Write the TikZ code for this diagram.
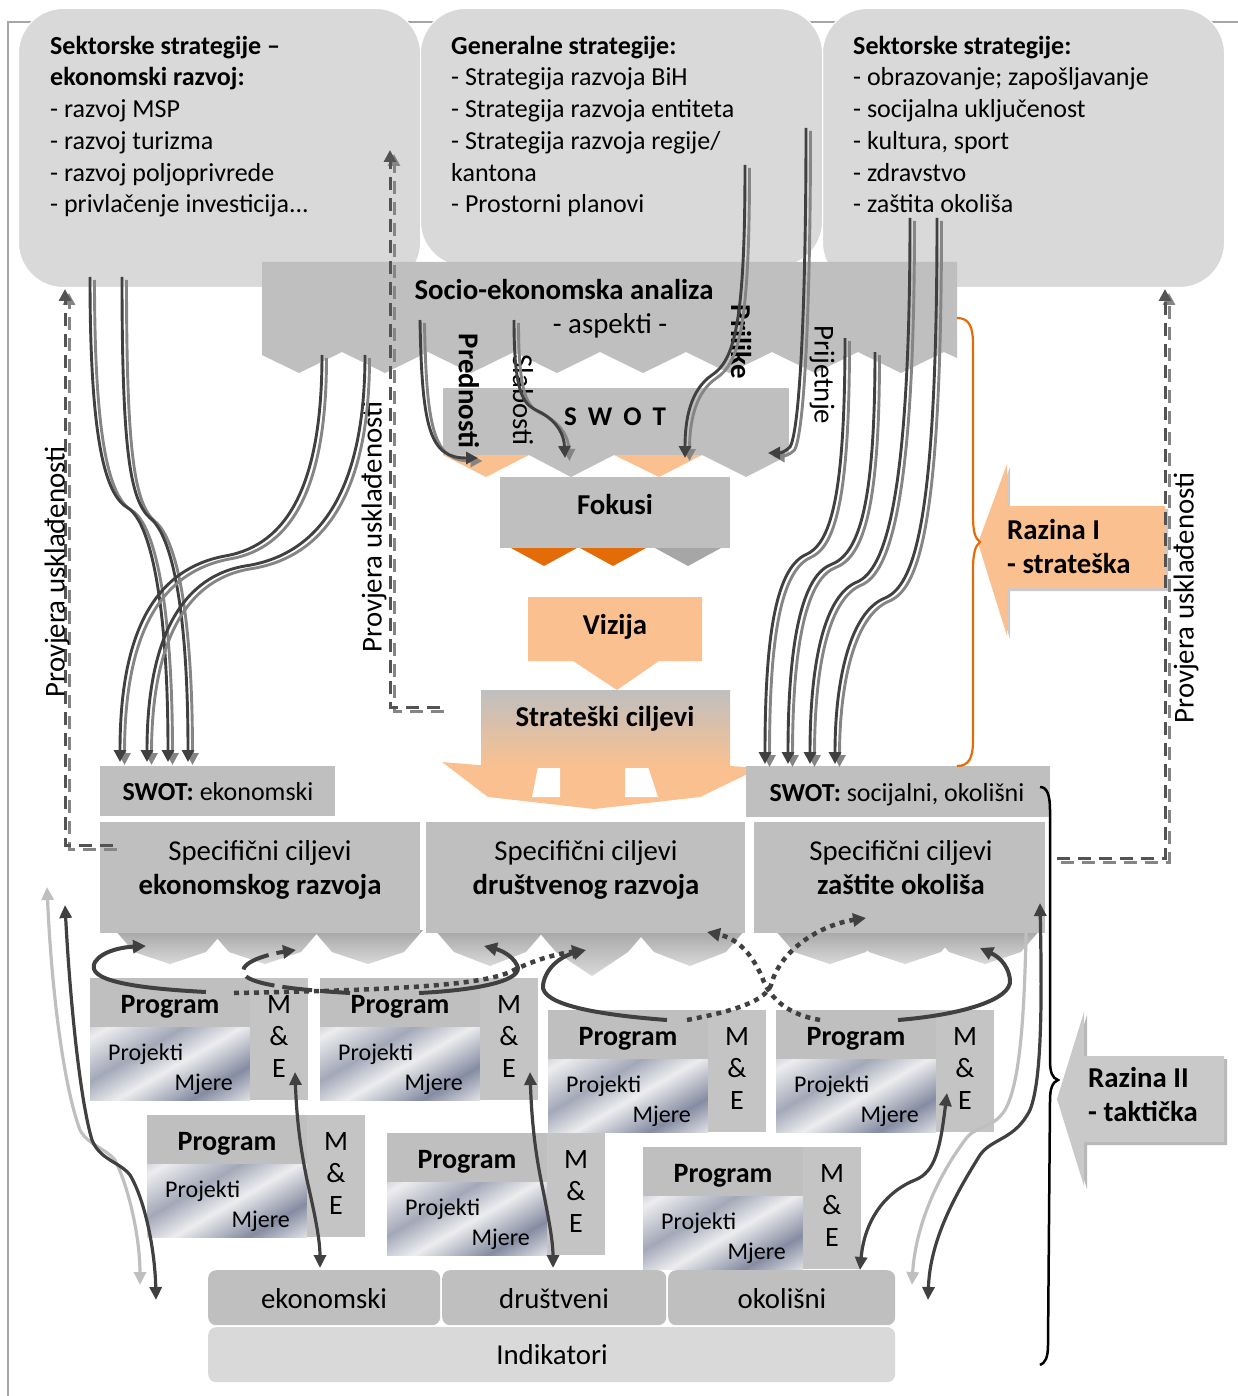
\documentclass[tikz,border=0pt]{standalone}
\usepackage{fontspec}
\setmainfont{Carlito}
\usetikzlibrary{arrows.meta,calc}
\definecolor{lbox}{HTML}{D9D9D9}
\definecolor{mbox}{HTML}{BFBFBF}
\definecolor{mecol}{HTML}{C4C4C4}
\definecolor{peach}{HTML}{FAC090}
\definecolor{dorange}{HTML}{E36C09}
\definecolor{dline}{HTML}{404040}
\definecolor{gline}{HTML}{858585}
\definecolor{dgray}{HTML}{A6A6A6}
\definecolor{frame}{HTML}{A6A6A6}
\definecolor{mA}{HTML}{858CA2}
\definecolor{mB}{HTML}{EDEDEF}
\definecolor{mC}{HTML}{A3A8B8}
\pgfdeclarehorizontalshading{metal}{100bp}{color(0bp)=(mA); color(20bp)=(mB); color(38bp)=(mC); color(52bp)=(mB); color(70bp)=(mA); color(86bp)=(mB); color(100bp)=(mC)}
\tikzset{
  t/.style={inner sep=0pt, font=\fontsize{26}{31}\selectfont},
  tb/.style={inner sep=0pt, font=\fontsize{26}{31}\selectfont\bfseries},
  tl/.style={inner sep=0pt, font=\fontsize{28.8}{33}\selectfont},
  tlb/.style={inner sep=0pt, font=\fontsize{28.8}{33}\selectfont\bfseries},
  tsm/.style={inner sep=0pt, font=\fontsize{24}{28}\selectfont},
  blk/.style={inner sep=0pt, anchor=north west},
  tip/.style={-{Triangle[length=12pt,width=12pt]}},
  dl/.style={draw=dline, line width=2.9pt, tip},
  gl/.style={draw=gline, line width=2.9pt, tip, transform canvas={xshift=4.5pt,yshift=-3pt}},
  ddash/.style={draw=dline!90, line width=3pt, dash pattern=on 13pt off 8pt, tip},
  gdash/.style={draw=gline, line width=3pt, dash pattern=on 13pt off 8pt, tip, transform canvas={xshift=4pt,yshift=-4pt}},
  loopl/.style={draw=dline, line width=4pt, -{Triangle[length=13pt,width=13pt]}},
  dotl/.style={draw=dline, line width=4.5pt, dash pattern=on 5pt off 5pt, -{Triangle[length=13pt,width=13pt]}},
  longl/.style={line width=3.2pt, {Triangle[length=13pt,width=12pt]}-{Triangle[length=13pt,width=12pt]}},
}
\newcommand\dbl[1]{\draw[gl] #1; \draw[dl] #1;}
\newcommand\dbldash[1]{\draw[gdash] #1; \draw[ddash] #1;}
\newcommand\prog[3]{%
  \node[blk, fill=mbox, minimum width=160pt, minimum height=49pt] (#1hdr) at (#2,#3) {};
  \node[blk, shade, shading=metal, shading angle=-60, minimum width=160pt, minimum height=73pt] (#1prj) at (#2,#3+49) {};
  \node[blk, fill=mecol, minimum width=58pt, minimum height=122pt] (#1me) at (#2+160,#3) {};
  \node[inner sep=0pt, anchor=base, font=\fontsize{28}{32}\selectfont\bfseries] (#1p) at (#2+80,#3+35) {Program};
  \node[tsm, anchor=base west] (#1pj) at (#2+18,#3+82) {Projekti};
  \node[tsm, anchor=base east] (#1mj) at (#2+143,#3+112) {Mjere};
  \node[inner sep=0pt, anchor=base, font=\fontsize{28}{32}\selectfont] (#1m) at (#2+189,#3+35) {M};
  \node[inner sep=0pt, anchor=base, font=\fontsize{28}{32}\selectfont] (#1a) at (#2+189,#3+67) {\&};
  \node[inner sep=0pt, anchor=base, font=\fontsize{28}{32}\selectfont] (#1e) at (#2+189,#3+99) {E};
}
\begin{document}
\begin{tikzpicture}[x=1pt,y=-1pt]
\useasboundingbox (0,0) rectangle (1237,1396);
% frame
\draw[frame, line width=1.5pt] (8,1400) -- (8,22) -- (1240,22);
% top boxes
\node[blk, fill=lbox, draw=white, line width=1pt, rounded corners=45pt, minimum width=402pt, minimum height=279pt] (box1) at (18,8) {};
\node[blk, fill=lbox, draw=white, line width=1pt, rounded corners=45pt, minimum width=402pt, minimum height=279pt] (box3) at (822,8) {};
\node[blk, fill=lbox, draw=white, line width=1pt, rounded corners=45pt, minimum width=402pt, minimum height=258pt] (box2) at (420,8) {};
% box texts
\node[tb, anchor=base west] (b1a) at (50,55) {Sektorske strategije –};
\node[tb, anchor=base west] (b1b) at (50,86) {ekonomski razvoj:};
\node[t, anchor=base west] (b1c) at (50,118) {- razvoj MSP};
\node[t, anchor=base west] (b1d) at (50,150) {- razvoj turizma};
\node[t, anchor=base west] (b1e) at (50,182) {- razvoj poljoprivrede};
\node[t, anchor=base west] (b1f) at (50,213) {- privlačenje investicija...};
\node[tb, anchor=base west] (b2a) at (451,55) {Generalne strategije:};
\node[t, anchor=base west] (b2b) at (451,86) {- Strategija razvoja BiH};
\node[t, anchor=base west] (b2c) at (451,118) {- Strategija razvoja entiteta};
\node[t, anchor=base west] (b2d) at (451,150) {- Strategija razvoja regije/};
\node[t, anchor=base west] (b2e) at (451,182) {kantona};
\node[t, anchor=base west] (b2f) at (451,213) {- Prostorni planovi};
\node[tb, anchor=base west] (b3a) at (853,55) {Sektorske strategije:};
\node[t, anchor=base west] (b3b) at (853,86) {- obrazovanje; zapošljavanje};
\node[t, anchor=base west] (b3c) at (853,118) {- socijalna uključenost};
\node[t, anchor=base west] (b3d) at (853,150) {- kultura, sport};
\node[t, anchor=base west] (b3e) at (853,182) {- zdravstvo};
\node[t, anchor=base west] (b3f) at (853,213) {- zaštita okoliša};
% socio box
\fill[mbox] (262,262) -- (957,262) -- (957,358) -- (944,352) -- (901,373) -- (858,352) -- (815,373) -- (772,352) -- (729,373) -- (686,352) -- (643,373) -- (600,352) -- (557,373) -- (514,352) -- (471,373) -- (428,352) -- (385,373) -- (342,352) -- (299,373) -- (262,355) -- cycle;
\node[tlb, anchor=base] (socio) at (564,299) {Socio-ekonomska analiza};
\node[tl, anchor=base] (asp) at (610,334) {- aspekti -};
% SWOT
\node[blk, fill=mbox, minimum width=346pt, minimum height=67pt] (swotbox) at (443,388) {};
\fill[peach] (443,455) -- (486,477) -- (529,455) -- cycle;
\fill[mbox] (529,455) -- (571,477) -- (614,455) -- cycle;
\fill[peach] (614,455) -- (659,477) -- (702,455) -- cycle;
\fill[mbox] (702,455) -- (746,477) -- (789,455) -- cycle;
\node[tlb, anchor=base, font=\fontsize{27}{31}\selectfont\bfseries] (swot) at (615,425) {S\hspace{11pt}W\hspace{11pt}O\hspace{11pt}T};
% Fokusi
\node[blk, fill=mbox, minimum width=230pt, minimum height=71pt] (fok) at (500,477) {};
\node[tlb, anchor=base] (fokt) at (615,514) {Fokusi};
\fill[dorange] (511,548) -- (544,566) -- (577,548) -- cycle;
\fill[dorange] (580,548) -- (613,566) -- (646,548) -- cycle;
\fill[dgray] (655,548) -- (688,566) -- (721,548) -- cycle;
% Vizija
\fill[peach] (528,597) -- (702,597) -- (702,661) -- (659,661) -- (617,690) -- (573,661) -- (528,661) -- cycle;
\node[tlb, anchor=base] (viz) at (615,634) {Vizija};
% Strateski arrow + box
\fill[peach] (442,762) -- (490,766) -- (730,766) -- (760,768) -- (700,797) -- (594,809) -- (488,797) -- cycle;
\fill[white] (538,767) -- (560,767) -- (560,797) -- (532,797) -- cycle;
\fill[white] (625,767) -- (648,767) -- (658,797) -- (625,797) -- cycle;
\shade[top color=mbox, bottom color=peach] (481,690) rectangle (730,767);
\node[tlb, anchor=base] (strat) at (605,726) {Strateški ciljevi};
% Specificni chevrons
\foreach \cx/\d in {170/34,265/34,368/34,490/36,592/46,690/36,830/34,905/34,985/34}{
  \shade[top color=dgray, bottom color=lbox] (\cx-55,930) -- (\cx+55,930) -- (\cx+36,952) -- (\cx,930+\d) -- (\cx-36,952) -- cycle;
}
% Specificni boxes
\node[blk, fill=mbox, minimum width=320pt, minimum height=111pt] (sc1) at (100,822) {};
\node[blk, fill=mbox, minimum width=319pt, minimum height=111pt] (sc2) at (426,822) {};
\node[blk, fill=mbox, minimum width=291pt, minimum height=111pt] (sc3) at (754,822) {};
\node[tl, anchor=base] (sc1a) at (260,860) {Specifični ciljevi};
\node[tlb, anchor=base] (sc1b) at (260,894) {ekonomskog razvoja};
\node[tl, anchor=base] (sc2a) at (586,860) {Specifični ciljevi};
\node[tlb, anchor=base] (sc2b) at (586,894) {društvenog razvoja};
\node[tl, anchor=base] (sc3a) at (901,860) {Specifični ciljevi};
\node[tlb, anchor=base] (sc3b) at (901,894) {zaštite okoliša};
% SWOT small boxes
\node[blk, fill=mbox, minimum width=235pt, minimum height=50pt] (swe) at (100,766) {};
\node[t, anchor=base] (swet) at (218,800) {\textbf{SWOT:} ekonomski};
\node[blk, fill=mbox, minimum width=304pt, minimum height=51pt] (sws) at (746,766) {};
\node[t, anchor=base] (swst) at (897,801) {\textbf{SWOT:} socijalni, okolišni};
% programs
\prog{pa}{90}{978}
\prog{pb}{320}{978}
\prog{pc}{548}{1010}
\prog{pd}{776}{1010}
\prog{pe}{147}{1115}
\prog{pf}{387}{1133}
\prog{pg}{643}{1147}
% indicators
\node[blk, fill=mbox, rounded corners=8pt, minimum width=232pt, minimum height=55pt] (ie) at (208,1270) {};
\node[blk, fill=mbox, rounded corners=8pt, minimum width=224pt, minimum height=55pt] (id) at (442,1270) {};
\node[blk, fill=mbox, rounded corners=8pt, minimum width=227pt, minimum height=55pt] (io) at (668,1270) {};
\node[blk, fill=lbox, rounded corners=8pt, minimum width=687pt, minimum height=55pt] (ind) at (208,1327) {};
\node[tl, anchor=base] (iet) at (324,1308) {ekonomski};
\node[tl, anchor=base] (idt) at (554,1308) {društveni};
\node[tl, anchor=base] (iot) at (782,1308) {okolišni};
\node[tl, anchor=base] (indt) at (552,1364) {Indikatori};
% Razina I
\fill[dgray!60] (1010,509) -- (1168,509) -- (1168,591) -- (1010,591) -- (1010,639) -- (981,546) -- (1010,467) -- cycle;
\fill[peach] (1007,506) -- (1165,506) -- (1165,588) -- (1007,588) -- (1007,636) -- (978,543) -- (1007,464) -- cycle;
\node[tlb, anchor=base west] (r1a) at (1007,539) {Razina I};
\node[tlb, anchor=base west] (r1b) at (1007,573) {- strateška};
% Razina II
\fill[dgray!80] (1087,1059) -- (1227,1059) -- (1227,1145) -- (1087,1145) -- (1087,1189) -- (1060,1102) -- (1087,1015) -- cycle;
\fill[mbox!85] (1084,1056) -- (1224,1056) -- (1224,1142) -- (1084,1142) -- (1084,1186) -- (1057,1099) -- (1084,1012) -- cycle;
\node[tlb, anchor=base west] (r2a) at (1088,1087) {Razina II};
\node[tlb, anchor=base west] (r2b) at (1088,1121) {- taktička};
% braces
\draw[dorange, line width=2.2pt] (957,318) .. controls (970,318) and (973,328) .. (973,345) -- (973,515) .. controls (973,532) and (975,538) .. (980,542) .. controls (975,546) and (973,554) .. (973,570) -- (973,740) .. controls (973,758) and (969,766) .. (957,766);
\draw[black, line width=2.5pt] (1040,787) .. controls (1047,787) and (1050,795) .. (1050,810) -- (1050,1060) .. controls (1050,1072) and (1052,1078) .. (1058,1080) .. controls (1052,1082) and (1050,1090) .. (1050,1100) -- (1048,1345) .. controls (1048,1358) and (1045,1363) .. (1040,1365);
% dashed alignment checks
\coordinate (pl1) at (113,845); \coordinate (pl1c) at (65,845); \coordinate (pl1e) at (65,289);
\coordinate (pl2) at (440,707); \coordinate (pl2c) at (390,707); \coordinate (pl2e) at (390,150);
\coordinate (pl3) at (1057,858); \coordinate (pl3c) at (1165,858); \coordinate (pl3e) at (1165,289);
\dbldash{(pl1) -- (pl1c) -- (pl1e)}
\dbldash{(pl2) -- (pl2c) -- (pl2e)}
\dbldash{(pl3) -- (pl3c) -- (pl3e)}
\node[tl, rotate=90] (pv1) at (57,572) {Provjera usklađenosti};
\node[tl, rotate=90] (pv2) at (374,527) {Provjera usklađenosti};
\node[tl, rotate=90] (pv3) at (1186,598) {Provjera usklađenosti};
% SWOT labels
\node[tlb, rotate=-90] (lpre) at (469,391) {Prednosti};
\node[tl, rotate=-90] (lsla) at (523,400) {Slabosti};
\node[tlb, rotate=-90] (lpri) at (741,342) {Prilike};
\node[tl, rotate=-90] (lprj) at (822,375) {Prijetnje};
% coordinates for connectors
\coordinate (l1s) at (90,277);  \coordinate (l1e) at (168,762);
\coordinate (l2s) at (122,277); \coordinate (l2e) at (188,762);
\coordinate (l3s) at (322,355); \coordinate (l3e) at (120,762);
\coordinate (l4s) at (365,355); \coordinate (l4e) at (147,762);
\coordinate (r1s) at (845,338); \coordinate (r1e) at (765,764);
\coordinate (r2s) at (875,352); \coordinate (r2e) at (788,764);
\coordinate (r3s) at (910,218); \coordinate (r3e) at (810,764);
\coordinate (r4s) at (937,218); \coordinate (r4e) at (835,764);
\coordinate (sps) at (420,320); \coordinate (spe) at (478,458);
\coordinate (sws1) at (514,320); \coordinate (swe1) at (565,458);
\coordinate (sos) at (745,165); \coordinate (soe) at (685,458);
\coordinate (sts) at (806,128); \coordinate (ste) at (768,453);
% left group
\dbl{(l1s) .. controls (90,440) and (105,495) .. (128,508) .. controls (150,522) and (168,600) .. (l1e)}
\dbl{(l2s) .. controls (122,450) and (130,500) .. (150,518) .. controls (172,535) and (188,610) .. (l2e)}
\dbl{(l3s) .. controls (322,480) and (290,545) .. (225,556) .. controls (150,570) and (120,640) .. (l3e)}
\dbl{(l4s) .. controls (365,490) and (320,555) .. (245,566) .. controls (175,578) and (147,650) .. (l4e)}
% right group
\dbl{(r1s) .. controls (845,500) and (830,545) .. (805,555) .. controls (775,570) and (765,640) .. (r1e)}
\dbl{(r2s) .. controls (875,510) and (858,555) .. (830,565) .. controls (800,578) and (788,650) .. (r2e)}
\dbl{(r3s) .. controls (910,500) and (885,570) .. (857,582) .. controls (825,595) and (810,660) .. (r3e)}
\dbl{(r4s) .. controls (937,520) and (915,585) .. (885,598) .. controls (850,612) and (835,680) .. (r4e)}
% SWOT arrows
\dbl{(sps) .. controls (422,430) and (430,458) .. (spe)}
\dbl{(sws1) .. controls (514,400) and (525,405) .. (540,412) .. controls (558,422) and (564,435) .. (swe1)}
\dbl{(sos) .. controls (745,320) and (735,360) .. (712,375) .. controls (690,390) and (685,420) .. (soe)}
\dbl{(sts) .. controls (806,300) and (800,430) .. (790,447) .. controls (785,452) and (780,453) .. (ste)}
% program loops
\coordinate (lp1s) at (206,992); \coordinate (lp1e) at (146,946);
\coordinate (lp2s) at (350,993); \coordinate (lp2e) at (296,950);
\coordinate (dt1s) at (234,993); \coordinate (dt1e) at (585,950);
\coordinate (lp3s) at (419,993); \coordinate (lp3e) at (484,946);
\coordinate (lp4s) at (667,1020); \coordinate (lp4e) at (586,950);
\coordinate (dt2s) at (687,1020); \coordinate (dt2e) at (866,918);
\coordinate (dt3s) at (820,1020); \coordinate (dt3e) at (707,932);
\coordinate (lp5s) at (898,1020); \coordinate (lp5e) at (980,948);
\draw[loopl] (lp1s) .. controls (130,988) and (85,980) .. (95,962) .. controls (103,950) and (125,947) .. (lp1e);
\draw[loopl, dash pattern=on 30pt off 8pt] (lp2s) .. controls (300,990) and (245,985) .. (243,972) .. controls (242,960) and (275,953) .. (lp2e);
\draw[dotl] (dt1s) .. controls (400,990) and (480,985) .. (510,972) .. controls (530,962) and (550,955) .. (dt1e);
\draw[loopl] (lp3s) .. controls (480,990) and (525,980) .. (517,965) .. controls (512,955) and (500,950) .. (lp3e);
\draw[loopl] (lp4s) .. controls (600,1015) and (540,1005) .. (543,985) .. controls (546,965) and (565,955) .. (lp4e);
\draw[dotl] (dt2s) .. controls (740,1010) and (765,1000) .. (771,985) .. controls (780,950) and (820,925) .. (dt2e);
\draw[dotl] (dt3s) .. controls (790,1015) and (770,1000) .. (762,977) .. controls (750,950) and (735,938) .. (dt3e);
\draw[loopl] (lp5s) .. controls (960,1015) and (1012,1000) .. (1010,980) .. controls (1008,962) and (995,955) .. (lp5e);
% long side arrows
\coordinate (sa1s) at (65,905);  \coordinate (sa1e) at (156,1300);
\coordinate (sa2s) at (47,887);  \coordinate (sa2e) at (140,1285);
\coordinate (sa3s) at (1040,903); \coordinate (sa3e) at (928,1300);
\coordinate (sa4s) at (1027,887); \coordinate (sa4e) at (912,1285);
\draw[longl, draw=mbox] (sa2s) .. controls (52,1000) and (65,1090) .. (80,1130) .. controls (88,1145) and (105,1148) .. (115,1160) .. controls (130,1190) and (140,1240) .. (sa2e);
\draw[longl, draw=dline] (sa1s) .. controls (70,1000) and (80,1100) .. (92,1140) .. controls (100,1160) and (120,1162) .. (130,1175) .. controls (145,1200) and (155,1250) .. (sa1e);
\draw[longl, draw=mbox] (sa4s) .. controls (1025,1000) and (1022,1080) .. (1005,1110) .. controls (992,1130) and (975,1125) .. (965,1140) .. controls (935,1180) and (915,1230) .. (sa4e);
\draw[longl, draw=dline] (sa3s) .. controls (1042,1000) and (1042,1080) .. (1030,1110) .. controls (1015,1140) and (992,1138) .. (980,1155) .. controls (955,1195) and (930,1240) .. (sa3e);
% M&E to indicators
\coordinate (me1s) at (295,1072); \coordinate (me1e) at (320,1268);
\coordinate (me2s) at (530,1072); \coordinate (me2e) at (553,1268);
\coordinate (me3s) at (947,1093); \coordinate (me3e) at (860,1270);
\draw[longl, draw=dline] (me1s) .. controls (297,1130) and (303,1160) .. (307,1180) .. controls (315,1215) and (320,1240) .. (me1e);
\draw[longl, draw=dline] (me2s) .. controls (532,1130) and (537,1160) .. (541,1180) .. controls (548,1215) and (553,1240) .. (me2e);
\draw[longl, draw=dline] (me3s) .. controls (940,1150) and (935,1172) .. (915,1180) .. controls (890,1190) and (865,1215) .. (me3e);
\end{tikzpicture}
\end{document}
